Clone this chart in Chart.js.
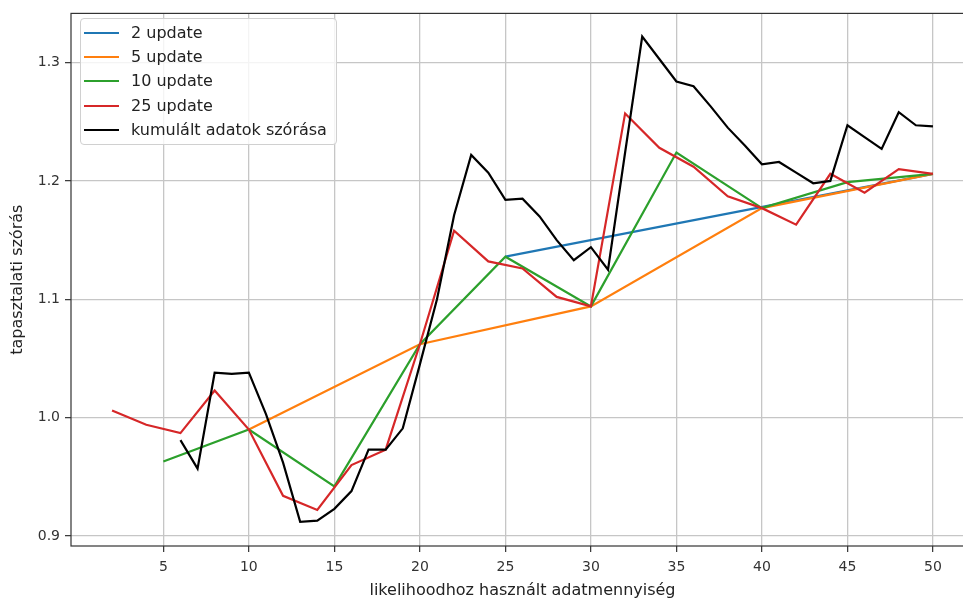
<!DOCTYPE html>
<html>
<head>
<meta charset="utf-8">
<script src="https://cdn.jsdelivr.net/npm/chart.js@4/dist/chart.umd.min.js"></script>
<style>
  html, body { margin: 0; padding: 0; background: #fff; overflow: hidden; width: 963px; height: 600px; }
  #wrap { position: relative; width: 980px; height: 600px; }
  #c { position: absolute; left: 0; top: 0; }
  #legend {
    position: absolute; left: 80px; top: 18px; width: 255px; height: 125px;
    border: 1px solid #d0d0d0; border-radius: 4px; background: rgba(255,255,255,0.8);
    font-family: "DejaVu Sans", sans-serif; font-size: 16px; color: #222;
  }
  .item { position: absolute; left: 0; height: 20px; width: 250px; }
  .swatch { position: absolute; left: 3px; width: 35px; height: 2px; top: 9px; }
  .lbl { position: absolute; left: 50px; top: 0px; white-space: nowrap; line-height: 20px; }
</style>
</head>
<body>
<div id="wrap">
  <canvas id="c" width="980" height="600"></canvas>
  <div id="legend"></div>
</div>
<script>
// ---- data ----
const seriesNames = ["2 update", "5 update", "10 update", "25 update", "kumulált adatok szórása"];
const seriesColors = ["#1f77b4", "#ff7f0e", "#2ca02c", "#d62728", "#000000"];

const x2 = [25, 50];
const y2 = [1.136, 1.206];

const x5 = [10, 20, 30, 40, 50];
const y5 = [0.990, 1.062, 1.094, 1.177, 1.206];

const x10 = [5, 10, 15, 20, 25, 30, 35, 40, 45, 50];
const y10 = [0.963, 0.990, 0.942, 1.062, 1.136, 1.094, 1.224, 1.177, 1.199, 1.206];

const x25 = [2, 4, 6, 8, 10, 12, 14, 16, 18, 20, 22, 24, 26, 28, 30, 32, 34, 36, 38, 40, 42, 44, 46, 48, 50];
const y25 = [1.006, 0.994, 0.987, 1.023, 0.990, 0.934, 0.922, 0.960, 0.973, 1.062, 1.158, 1.132, 1.126,
             1.102, 1.094, 1.257, 1.228, 1.212, 1.187, 1.177, 1.163, 1.206, 1.190, 1.210, 1.206];

const xCum = [6, 7, 8, 9, 10, 11, 12, 13, 14, 15, 16, 17, 18, 19, 20, 21, 22, 23, 24, 25, 26, 27, 28,
              29, 30, 31, 32, 33, 34, 35, 36, 37, 38, 39, 40, 41, 42, 43, 44, 45, 46, 47, 48, 49, 50];
const yCum = [0.981, 0.957, 1.038, 1.037, 1.038, 1.003, 0.962, 0.912, 0.913, 0.923, 0.938, 0.973, 0.973,
              0.991, 1.045, 1.100, 1.171, 1.222, 1.207, 1.184, 1.185, 1.170, 1.150, 1.133, 1.144, 1.125,
              1.224, 1.322, 1.303, 1.284, 1.280, 1.263, 1.245, 1.230, 1.214, 1.216, 1.207, 1.198, 1.200,
              1.247, 1.237, 1.227, 1.258, 1.247, 1.246];

const xTicks = [5, 10, 15, 20, 25, 30, 35, 40, 45, 50];
const yTicks = [0.9, 1.0, 1.1, 1.2, 1.3];

const xTitle = "likelihoodhoz használt adatmennyiség";
const yTitle = "tapasztalati szórás";

// ---- build ----
const seriesX = [x2, x5, x10, x25, xCum];
const seriesY = [y2, y5, y10, y25, yCum];

const datasets = seriesNames.map((name, i) => ({
  label: name,
  data: seriesX[i].map((x, j) => ({ x: x, y: seriesY[i][j] })),
  borderColor: seriesColors[i],
  backgroundColor: seriesColors[i],
  borderWidth: 2.2,
  pointRadius: 0,
  tension: 0,
  fill: false,
  order: seriesNames.length - i
}));

const FONT = "'DejaVu Sans', sans-serif";

const framePlugin = {
  id: 'frame',
  afterDatasetsDraw(chart) {
    const a = chart.chartArea, ctx = chart.ctx;
    ctx.save();
    ctx.strokeStyle = '#333';
    ctx.lineWidth = 1.2;
    ctx.strokeRect(a.left, a.top, a.right - a.left, a.bottom - a.top);
    ctx.restore();
  }
};

const chart = new Chart(document.getElementById('c'), {
  type: 'line',
  data: { datasets },
  options: {
    responsive: false,
    animation: false,
    devicePixelRatio: 1,
    layout: { padding: { top: 10, right: 6, left: 0, bottom: 0 } },
    plugins: { legend: { display: false }, tooltip: { enabled: false } },
    scales: {
      x: {
        type: 'linear',
        min: -0.4, max: 52.4,
        afterBuildTicks: (s) => { s.ticks = xTicks.map(v => ({ value: v })); },
        afterFit: (s) => { s.height = 54; },
        ticks: { font: { family: FONT, size: 14 }, color: '#333', padding: 7, maxRotation: 0,
                 callback: (v) => String(v) },
        grid: { color: '#c6c6c6', lineWidth: 1.3, tickColor: '#333', tickLength: 6, tickWidth: 1.2 },
        border: { display: false },
        title: { display: true, text: xTitle, font: { family: FONT, size: 16 }, color: '#222',
                 padding: { top: 0, bottom: 0 } }
      },
      y: {
        type: 'linear',
        min: 0.8916, max: 1.3415,
        afterBuildTicks: (s) => { s.ticks = yTicks.map(v => ({ value: v })); },
        afterFit: (s) => { s.width = 71; },
        ticks: { font: { family: FONT, size: 14 }, color: '#333', padding: 5,
                 callback: (v) => Number(v).toFixed(1) },
        grid: { color: '#c6c6c6', lineWidth: 1.3, tickColor: '#333', tickLength: 6, tickWidth: 1.2 },
        border: { display: false },
        title: { display: true, text: yTitle, font: { family: FONT, size: 16 }, color: '#222',
                 padding: { top: 8, bottom: 0 } }
      }
    }
  },
  plugins: [framePlugin]
});

// ---- HTML legend built from the datasets ----
const leg = document.getElementById('legend');
chart.data.datasets.forEach((ds, i) => {
  const it = document.createElement('div');
  it.className = 'item';
  it.style.top = (4 + i * 24.2) + 'px';
  const sw = document.createElement('div');
  sw.className = 'swatch';
  sw.style.background = ds.borderColor;
  const lb = document.createElement('div');
  lb.className = 'lbl';
  lb.textContent = ds.label;
  it.appendChild(sw); it.appendChild(lb);
  leg.appendChild(it);
});
</script>
</body>
</html>
